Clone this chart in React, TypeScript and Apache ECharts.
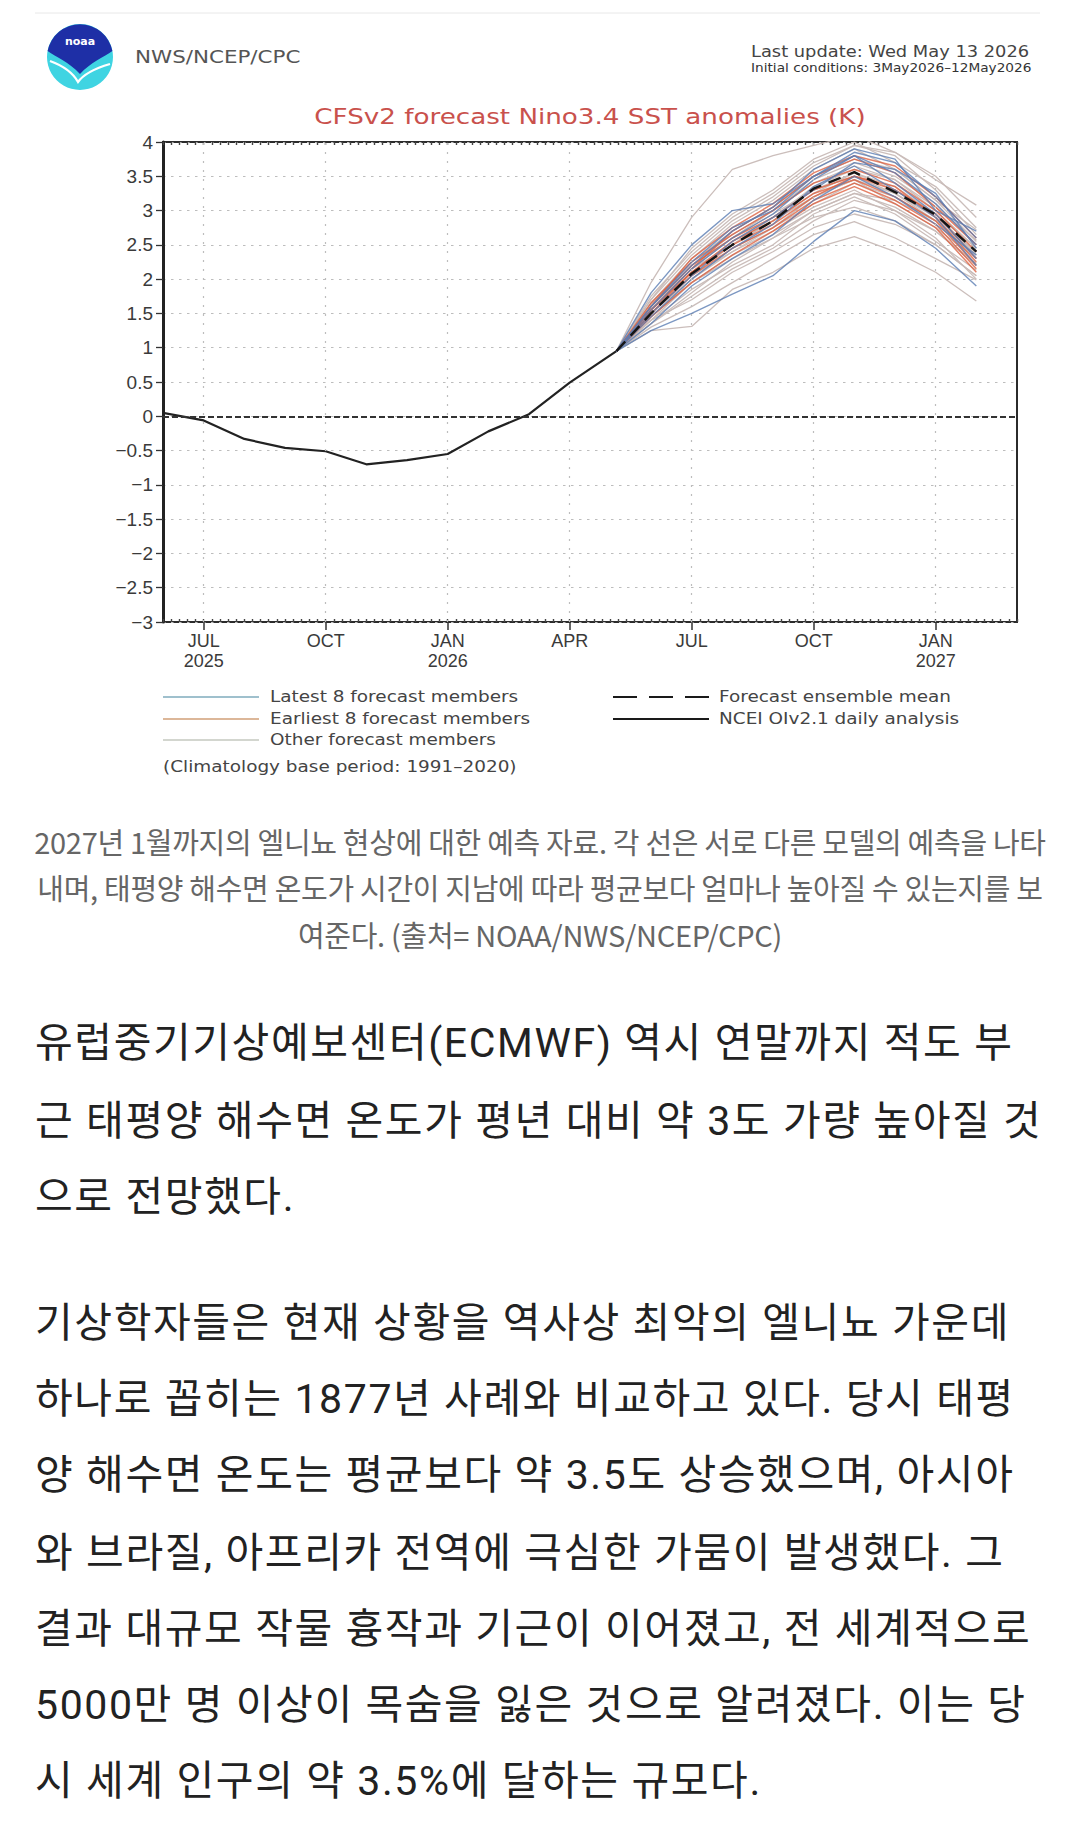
import React, { useEffect, useRef } from "react";
import * as echarts from "echarts";

// ---------- DATA ----------
// x values are months counted from JUL 2025 (= 0); the axis spans JUN 2025 (-1) .. MAR 2027 (20)
const tickMonths = [0, 3, 6, 9, 12, 15, 18];
const tickLabels = ["JUL\n2025", "OCT", "JAN\n2026", "APR", "JUL", "OCT", "JAN\n2027"];

const obsMonths = [-1, 0, 1, 2, 3, 4, 5, 6, 7, 8, 9, 10.15];
const obsValues = [0.05, -0.06, -0.33, -0.46, -0.51, -0.7, -0.64, -0.55, -0.22, 0.03, 0.49, 0.95];

const memberMonths = [10.15, 11, 12, 13, 14, 15, 16, 17, 18, 19];
const meanValues = [0.95, 1.5, 2.08, 2.5, 2.85, 3.32, 3.56, 3.27, 2.94, 2.4];

const latestMembers = [
  [0.95, 1.25, 1.5, 1.78, 2.05, 2.55, 3.0, 2.85, 2.45, 1.9],
  [0.95, 1.8, 2.5, 3.0, 3.1, 3.5, 3.85, 3.7, 3.2, 2.6],
  [0.95, 1.6, 2.2, 2.7, 3.05, 3.6, 3.9, 3.75, 3.0, 2.7],
  [0.95, 1.55, 2.15, 2.6, 2.95, 3.45, 3.8, 3.55, 3.1, 2.5],
  [0.95, 1.5, 2.05, 2.55, 2.9, 3.3, 3.7, 3.6, 3.25, 2.45],
  [0.95, 1.45, 2.0, 2.45, 2.8, 3.35, 3.65, 3.3, 2.9, 2.2],
  [0.95, 1.6, 2.25, 2.75, 3.0, 3.5, 3.8, 3.4, 2.95, 2.3],
  [0.95, 1.35, 1.9, 2.3, 2.65, 3.15, 3.5, 3.2, 2.8, 2.35],
];

const earliestMembers = [
  [0.95, 1.55, 2.1, 2.55, 2.85, 3.25, 3.45, 3.2, 2.85, 2.2],
  [0.95, 1.6, 2.2, 2.6, 2.9, 3.3, 3.5, 3.3, 2.95, 2.3],
  [0.95, 1.5, 2.05, 2.45, 2.75, 3.15, 3.4, 3.15, 2.8, 2.15],
  [0.95, 1.65, 2.25, 2.65, 3.0, 3.4, 3.6, 3.4, 3.0, 2.4],
  [0.95, 1.55, 2.15, 2.7, 3.05, 3.5, 3.75, 3.55, 3.05, 2.5],
  [0.95, 1.45, 1.95, 2.35, 2.7, 3.1, 3.35, 3.1, 2.75, 2.1],
  [0.95, 1.6, 2.3, 2.75, 3.1, 3.55, 3.8, 3.65, 3.2, 2.6],
  [0.95, 1.5, 2.1, 2.5, 2.8, 3.2, 3.5, 3.35, 2.9, 2.25],
];

const otherMembers = [
  [0.95, 1.95, 2.9, 3.6, 3.8, 3.95, 4.1, 3.85, 3.45, 3.08],
  [0.95, 1.7, 2.45, 2.95, 3.3, 3.75, 4.0, 3.7, 3.35, 2.75],
  [0.95, 1.35, 1.75, 2.15, 2.45, 2.85, 3.15, 3.0, 2.6, 2.0],
  [0.95, 1.25, 1.31, 1.85, 2.1, 2.45, 2.62, 2.4, 2.1, 1.68],
  [0.95, 1.3, 1.6, 1.95, 2.3, 2.65, 2.84, 2.6, 2.3, 1.99],
  [0.95, 1.4, 1.85, 2.2, 2.5, 2.95, 3.2, 2.95, 2.55, 2.13],
  [0.95, 1.55, 2.1, 2.5, 2.9, 3.35, 3.6, 3.45, 3.05, 2.57],
  [0.95, 1.5, 2.0, 2.4, 2.7, 3.05, 3.3, 3.0, 2.7, 2.23],
  [0.95, 1.65, 2.3, 2.8, 3.15, 3.6, 3.9, 3.6, 3.15, 2.72],
  [0.95, 1.4, 1.95, 2.35, 2.65, 3.0, 3.25, 3.15, 2.85, 2.36],
  [0.95, 1.6, 2.2, 2.65, 3.0, 3.45, 3.7, 3.5, 3.1, 2.5],
  [0.95, 1.45, 2.0, 2.45, 2.75, 3.2, 3.45, 3.25, 2.9, 2.4],
  [0.95, 1.55, 2.15, 2.6, 3.0, 3.4, 3.65, 3.45, 3.0, 2.45],
  [0.95, 1.35, 1.8, 2.25, 2.6, 2.9, 3.05, 2.85, 2.5, 2.05],
  [0.95, 1.7, 2.35, 2.85, 3.2, 3.65, 3.95, 3.8, 3.3, 2.65],
  [0.95, 1.5, 2.05, 2.5, 2.85, 3.25, 3.55, 3.3, 2.95, 2.35],
  [0.95, 1.6, 2.2, 2.6, 2.95, 3.3, 3.55, 3.35, 2.95, 2.45],
  [0.95, 1.45, 1.95, 2.3, 2.6, 3.0, 3.25, 3.05, 2.7, 2.2],
  [0.95, 1.65, 2.25, 2.7, 3.05, 3.5, 3.75, 3.6, 3.15, 2.55],
  [0.95, 1.4, 1.7, 2.1, 2.4, 2.75, 2.95, 2.8, 2.5, 2.05],
  [0.95, 1.55, 2.1, 2.55, 2.9, 3.3, 3.5, 3.25, 2.85, 2.3],
  [0.95, 1.5, 2.05, 2.4, 2.75, 3.1, 3.4, 3.2, 2.85, 2.4],
  [0.95, 1.75, 2.4, 2.9, 3.25, 3.7, 3.95, 3.85, 3.5, 2.9],
  [0.95, 1.6, 2.15, 2.5, 2.85, 3.2, 3.45, 3.1, 2.75, 2.3],
];

const legendLeftItems = ["Latest 8 forecast members", "Earliest 8 forecast members", "Other forecast members"];
const legendRightItems = ["Forecast ensemble mean", "NCEI OIv2.1 daily analysis"];

const captionLines = [
  "2027년 1월까지의 엘니뇨 현상에 대한 예측 자료. 각 선은 서로 다른 모델의 예측을 나타",
  "내며, 태평양 해수면 온도가 시간이 지남에 따라 평균보다 얼마나 높아질 수 있는지를 보",
  "여준다. (출처= NOAA/NWS/NCEP/CPC)",
];

const para1 = [
  "유럽중기기상예보센터(ECMWF) 역시 연말까지 적도 부",
  "근 태평양 해수면 온도가 평년 대비 약 3도 가량 높아질 것",
  "으로 전망했다.",
];

const para2 = [
  "기상학자들은 현재 상황을 역사상 최악의 엘니뇨 가운데",
  "하나로 꼽히는 1877년 사례와 비교하고 있다. 당시 태평",
  "양 해수면 온도는 평균보다 약 3.5도 상승했으며, 아시아",
  "와 브라질, 아프리카 전역에 극심한 가뭄이 발생했다. 그",
  "결과 대규모 작물 흉작과 기근이 이어졌고, 전 세계적으로",
  "5000만 명 이상이 목숨을 잃은 것으로 알려졌다. 이는 당",
  "시 세계 인구의 약 3.5%에 달하는 규모다.",
];

// ---------- STYLE ----------
const latestColor = "#5b7db3";
const earliestColor = "#de5f3e";
const otherColor = "#c8bab7";
const latestLegendColor = "#9fc0cd";
const earliestLegendColor = "#dcb799";
const otherLegendColor = "#d3d6cf";
const grads = "'DejaVu Sans', sans-serif";
const GX = 1.19; // horizontal stretch that mimics the wide GrADS font

// NOAA logo shapes (66 x 66 box)
const logoTop =
  "M 0.6 27 A 33 33 0 0 1 65.4 27 C 57 33 44 38 33 50 C 22 38 9 33 0.6 27 Z";
const logoSwoosh = "M 3 37 C 14 41 25 47 31 58 C 36 51 46 45 63 40";
echarts.graphic.registerShape("noaaTop", echarts.graphic.extendPath(logoTop, {}));
echarts.graphic.registerShape("noaaSwoosh", echarts.graphic.extendPath(logoSwoosh, {}));

const pairs = (xs: number[], ys: number[]) => xs.map((x, i) => [x, ys[i]]);

function gradsText(text: string, x: number, y: number, size: number, fill: string, align = "left") {
  return {
    type: "text",
    x,
    y,
    scaleX: GX,
    style: {
      text,
      fill,
      fontSize: size,
      fontFamily: grads,
      textAlign: align,
      align,
      textVerticalAlign: "middle",
      verticalAlign: "middle",
    },
  };
}

function legendLine(x1: number, x2: number, y: number, color: string, width: number, dash?: number[]) {
  return {
    type: "line",
    shape: { x1, y1: y, x2, y2: y },
    style: { stroke: color, lineWidth: width, lineDash: dash },
  };
}

function buildOption() {
  const memberSeries = (list: number[][], name: string, color: string, opacity: number, width: number) =>
    list.map((vals) => ({
      type: "line",
      name,
      data: pairs(memberMonths, vals),
      symbol: "none",
      silent: true,
      z: 3,
      lineStyle: { color, width, opacity },
    }));

  const dottedV = { type: [2, 7], color: "#bdbdbd", width: 1.2 };

  const legendRows = [697, 719, 740];

  return {
    animation: false,
    backgroundColor: "#ffffff",
    grid: {
      left: 163,
      top: 142,
      width: 854,
      height: 480,
      show: true,
      borderColor: "#2b2b2b",
      borderWidth: 2,
      backgroundColor: "transparent",
    },
    xAxis: [
      {
        type: "value",
        min: -1,
        max: 20,
        position: "bottom",
        axisLine: { show: false, onZero: false },
        splitLine: { show: false },
        axisTick: {
          show: true,
          customValues: tickMonths,
          length: 8,
          lineStyle: { color: "#333", width: 1.5 },
        },
        axisLabel: {
          customValues: tickMonths,
          formatter: (v: number) => {
            const i = tickMonths.indexOf(v);
            return i >= 0 ? tickLabels[i] : "";
          },
          fontSize: 18,
          lineHeight: 20,
          color: "#3a3a3a",
          fontFamily: "'Liberation Sans', Arial, sans-serif",
          margin: 9,
        },
      },
      {
        type: "value",
        min: -1,
        max: 20,
        interval: 0.2,
        position: "bottom",
        axisLine: { show: false, onZero: false },
        axisLabel: { show: false },
        splitLine: { show: false },
        axisTick: { show: true, inside: true, length: 3, lineStyle: { color: "#444", width: 1.4 } },
      },
      {
        type: "value",
        min: -1,
        max: 20,
        interval: 0.2,
        position: "top",
        axisLine: { show: false, onZero: false },
        axisLabel: { show: false },
        splitLine: { show: false },
        axisTick: { show: true, inside: true, length: 3, lineStyle: { color: "#444", width: 1.4 } },
      },
    ],
    yAxis: {
      type: "value",
      min: -3,
      max: 4,
      interval: 0.5,
      axisLine: { show: true, onZero: false, lineStyle: { color: "#222", width: 3 } },
      axisTick: { show: true, length: 7, lineStyle: { color: "#333", width: 1.3 } },
      axisLabel: {
        fontSize: 19,
        color: "#3a3a3a",
        fontFamily: "'Liberation Sans', Arial, sans-serif",
        margin: 10,
        formatter: (v: number) => String(v).replace("-", "\u2212"),
      },
      splitLine: { show: true, lineStyle: { type: [2.5, 5.5], color: "#bdbdbd", width: 1.2 } },
    },
    series: [
      {
        type: "line",
        name: "NCEI OIv2.1 daily analysis",
        data: pairs(obsMonths, obsValues),
        symbol: "none",
        z: 2,
        lineStyle: { color: "#222", width: 2.2 },
        markLine: {
          silent: true,
          symbol: ["none", "none"],
          label: { show: false },
          animation: false,
          data: [
            ...tickMonths.map((m) => ({ xAxis: m, lineStyle: dottedV })),
            { yAxis: 0, lineStyle: { type: [6, 3], color: "#333", width: 2 } },
          ],
        },
      },
      ...memberSeries(otherMembers, legendLeftItems[2], otherColor, 0.95, 1.3),
      ...memberSeries(earliestMembers, legendLeftItems[1], earliestColor, 0.78, 1.5),
      ...memberSeries(latestMembers, legendLeftItems[0], latestColor, 0.8, 1.4),
      {
        type: "line",
        name: "Forecast ensemble mean",
        data: pairs(memberMonths, meanValues),
        symbol: "none",
        z: 5,
        lineStyle: { color: "#151515", width: 2.4, type: [13, 8] },
      },
    ],
    graphic: [
      // top rule
      { type: "line", shape: { x1: 35, y1: 13, x2: 1040, y2: 13 }, style: { stroke: "#e8e8e8", lineWidth: 1 } },
      // NOAA logo
      { type: "circle", shape: { cx: 80, cy: 57, r: 33 }, style: { fill: "#3fd4e2" } },
      { type: "noaaTop", x: 47, y: 24, style: { fill: "#1e2fa6" } },
      { type: "noaaSwoosh", x: 47, y: 24, style: { fill: "none", stroke: "#ffffff", lineWidth: 2.2 } },
      {
        type: "text",
        x: 80,
        y: 41,
        style: {
          text: "noaa",
          fill: "#ffffff",
          fontSize: 11,
          fontWeight: "bold",
          fontFamily: "'DejaVu Sans', sans-serif",
          textAlign: "center",
          align: "center",
          textVerticalAlign: "middle",
          verticalAlign: "middle",
        },
      },
      gradsText("NWS/NCEP/CPC", 135, 57, 18, "#555"),
      gradsText("Last update: Wed May 13 2026", 751, 52, 15, "#444"),
      gradsText("Initial conditions: 3May2026\u201312May2026", 751, 68, 11.5, "#333"),
      gradsText("CFSv2 forecast Nino3.4 SST anomalies (K)", 590, 117, 22, "#c9514c", "center"),
      // legend (left column)
      legendLine(163, 259, legendRows[0], latestLegendColor, 2),
      legendLine(163, 259, legendRows[1], earliestLegendColor, 2),
      legendLine(163, 259, legendRows[2], otherLegendColor, 2),
      gradsText(legendLeftItems[0], 270, legendRows[0], 15.5, "#444"),
      gradsText(legendLeftItems[1], 270, legendRows[1], 15.5, "#444"),
      gradsText(legendLeftItems[2], 270, legendRows[2], 15.5, "#444"),
      gradsText("(Climatology base period: 1991\u20132020)", 163, 767, 15.5, "#444"),
      // legend (right column)
      legendLine(613, 709, legendRows[0], "#1a1a1a", 2.2, [24, 12]),
      legendLine(613, 709, legendRows[1], "#1a1a1a", 2.2),
      gradsText(legendRightItems[0], 719, legendRows[0], 15.5, "#444"),
      gradsText(legendRightItems[1], 719, legendRows[1], 15.5, "#444"),
    ],
  };
}

export default function App() {
  const ref = useRef<HTMLDivElement>(null);

  useEffect(() => {
    if (!ref.current) return;
    const chart = echarts.init(ref.current, null, { renderer: "svg" });
    chart.setOption(buildOption() as any);
    return () => chart.dispose();
  }, []);

  const captionCenters = [841, 887, 934];
  const bodyCenters1 = [1043, 1121, 1197];
  const bodyCenters2 = [1323, 1399, 1475, 1553, 1629, 1705, 1781];

  const captionStyle = (c: number): React.CSSProperties => ({
    position: "absolute",
    left: 0,
    width: 1080,
    top: c - 23,
    height: 46,
    lineHeight: "46px",
    textAlign: "center",
    whiteSpace: "nowrap",
    fontFamily: "'Noto Sans CJK KR', sans-serif",
    fontSize: 29,
    letterSpacing: "-0.3px",
    color: "#666",
  });

  const bodyStyle = (c: number): React.CSSProperties => ({
    position: "absolute",
    left: 35,
    top: c - 38,
    height: 76,
    lineHeight: "76px",
    whiteSpace: "nowrap",
    fontFamily: "Roboto, 'Noto Sans CJK KR', sans-serif",
    fontSize: 41,
    letterSpacing: "1.6px",
    color: "#222",
  });

  return (
    <div
      style={{
        position: "absolute",
        left: 0,
        top: 0,
        width: 1080,
        height: 1831,
        background: "#ffffff",
        overflow: "hidden",
      }}
    >
      <div ref={ref} style={{ position: "absolute", left: 0, top: 0, width: 1080, height: 800 }} />
      {captionLines.map((t, i) => (
        <div key={"c" + i} style={captionStyle(captionCenters[i])}>
          {t}
        </div>
      ))}
      {para1.map((t, i) => (
        <div key={"a" + i} style={bodyStyle(bodyCenters1[i])}>
          {t}
        </div>
      ))}
      {para2.map((t, i) => (
        <div key={"b" + i} style={bodyStyle(bodyCenters2[i])}>
          {t}
        </div>
      ))}
    </div>
  );
}
